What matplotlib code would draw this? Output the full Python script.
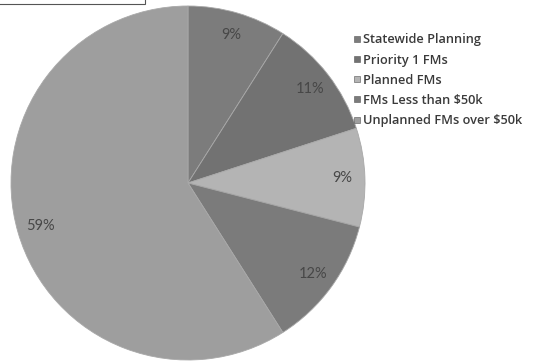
import matplotlib.pyplot as plt
from matplotlib.patches import Rectangle
from matplotlib.lines import Line2D

plt.rcParams['font.family'] = ['Lato', 'DejaVu Sans']

categories = ["Statewide Planning", "Priority 1 FMs", "Planned FMs",
              "FMs Less than $50k", "Unplanned FMs over $50k"]
shares = [9, 11, 9, 12, 59]
colors = ["#7c7c7c", "#727272", "#b4b4b4", "#7b7b7b", "#9e9e9e"]

fig = plt.figure(figsize=(5.35, 3.62), dpi=100)
# pie axes: 354 px square, centre near (188, 183)
ax = fig.add_axes([11 / 535, 2 / 362, 354 / 535, 354 / 362])
wedges, texts, autotexts = ax.pie(
    shares, colors=colors, startangle=90, counterclock=False,
    autopct=lambda p: f"{p:.0f}%", pctdistance=0.87,
    wedgeprops=dict(edgecolor="#a8a8a8", linewidth=0.6))
for t in autotexts:
    t.set_color("#474747")
    t.set_fontsize(10.5)
ax.set_xlim(-1, 1)
ax.set_ylim(-1, 1)
ax.set_aspect("equal")
ax.axis("off")

# legend on the right
handles = [Line2D([], [], marker="s", linestyle="none", markersize=4.5,
                  markerfacecolor=c, markeredgecolor="#555555",
                  markeredgewidth=0.4) for c in colors]
leg = fig.legend(handles, categories, loc="upper left",
                 bbox_to_anchor=(347 / 535, 1 - 27 / 362), frameon=False,
                 prop=dict(family=["Open Sans", "DejaVu Sans"], size=9.2,
                           weight="semibold"),
                 handlelength=0.5, handletextpad=0.25,
                 labelspacing=0.56, borderpad=0)
for t in leg.get_texts():
    t.set_color("#3a3a3a")

# remnant of the scanned title box at the top left
fig.add_artist(Rectangle((-0.05, 1 - 4 / 362), 145 / 535 + 0.05, 0.2,
                         transform=fig.transFigure, fill=False,
                         edgecolor="#555555", linewidth=0.8))

fig.savefig("out.png", dpi=100)
